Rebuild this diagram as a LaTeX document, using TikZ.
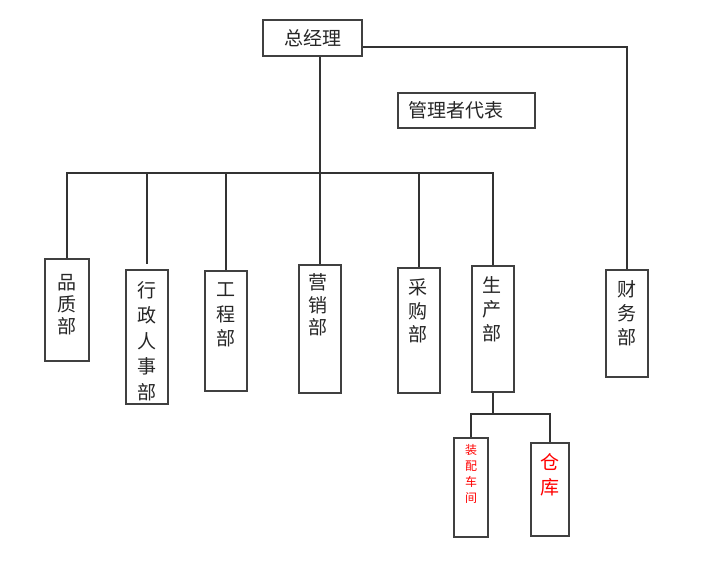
\documentclass[tikz,border=0pt]{standalone}
\usepackage{fontspec}
\newfontfamily\cjk{Noto Sans CJK SC}
\begin{document}
\begin{tikzpicture}[x=1pt,y=-1pt,
  box/.style={draw=black!75, line width=1.3pt, inner sep=0pt},
  conn/.style={draw=black!80, line width=1.1pt},
  vt/.style={font=\cjk\fontsize{19}{#1}\selectfont, align=center, inner sep=0pt, text=black!85},
  ht/.style={font=\cjk\fontsize{19}{22}\selectfont, text=black!85}]
\useasboundingbox[fill=white] (0,0) rectangle (727,562);
% top boxes
\node[box, ht, minimum width=99pt, minimum height=36pt] (gm) at (312.5,38) {总经理};
\node[box, ht, minimum width=137pt, minimum height=35pt, text width=117pt, inner xsep=10pt, align=left] (rep) at (466.5,110.5) {管理者代表};
% department boxes
\node[box, minimum width=44pt, minimum height=102pt] (pz) at (67,310) {};
\node[box, minimum width=42pt, minimum height=134pt] (xz) at (147,337) {};
\node[box, minimum width=42pt, minimum height=120pt] (gc) at (226,331) {};
\node[box, minimum width=42pt, minimum height=128pt] (yx) at (320,329) {};
\node[box, minimum width=42pt, minimum height=125pt] (cg) at (419,330.5) {};
\node[box, minimum width=42pt, minimum height=126pt] (sc) at (493,329) {};
\node[box, minimum width=42pt, minimum height=107pt] (cw) at (627,323.5) {};
\node[box, minimum width=34pt, minimum height=99pt] (zp) at (471,487.5) {};
\node[box, minimum width=38pt, minimum height=93pt] (ck) at (550,489.5) {};
% labels
\node[vt=22] (pzt) at (67,305) {品\\质\\部};
\node[vt=25.5] (xzt) at (147,341) {行\\政\\人\\事\\部};
\node[vt=24.5] (gct) at (226,315) {工\\程\\部};
\node[vt=22.5] (yxt) at (318,305) {营\\销\\部};
\node[vt=23.5] (cgt) at (418,311) {采\\购\\部};
\node[vt=24] (sct) at (492,309) {生\\产\\部};
\node[vt=24] (cwt) at (627,313) {财\\务\\部};
\node[font=\cjk\fontsize{12}{16}\selectfont, align=center, inner sep=0pt, text=red] (zpt) at (471,474) {装\\配\\车\\间};
\node[font=\cjk\fontsize{19}{25}\selectfont, align=center, inner sep=0pt, text=red] (ckt) at (550,474.5) {仓\\库};
% connectors
\coordinate (bus) at (0,173);
\coordinate (cwturn) at (627,47);
\draw[conn] (gm.south -| yx.north) -- (yx.north);
\draw[conn] (pz.north) -- (pz.north |- bus) -- (sc.north |- bus) -- (sc.north);
\draw[conn, shorten >=5pt] (xz.north |- bus) -- (xz.north);
\draw[conn] (gc.north |- bus) -- (gc.north);
\draw[conn] (cg.north |- bus) -- (cg.north);
\draw[conn] ([yshift=-9pt]gm.east) -- (cwturn) -- (cw.north);
\coordinate (sub) at (0,414);
\draw[conn] (sc.south) -- (sc.south |- sub);
\draw[conn] (zp.north) -- (zp.north |- sub) -- (ck.north |- sub) -- (ck.north);
\end{tikzpicture}
\end{document}
